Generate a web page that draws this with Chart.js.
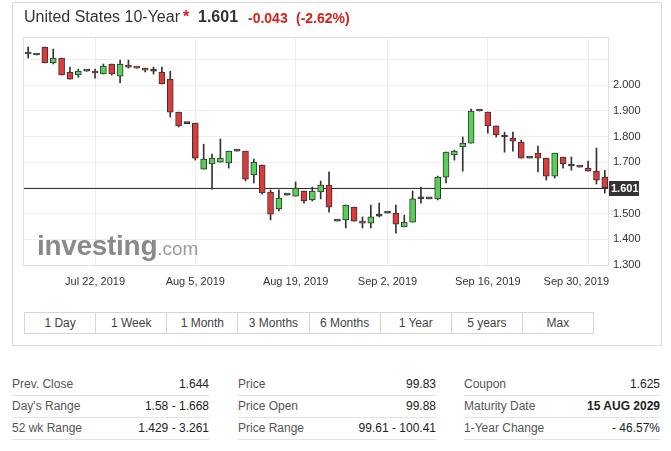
<!DOCTYPE html>
<html><head><meta charset="utf-8">
<script src="https://cdn.jsdelivr.net/npm/chart.js@4.4.0/dist/chart.umd.min.js"></script>
<style>
body{margin:0;background:#fff;font-family:'Liberation Sans',Arial,sans-serif;color:#333;width:671px;height:451px;overflow:hidden;position:relative}
#frame{position:absolute;left:12px;top:2px;width:650px;height:344px;border:1px solid #d9d9d9;box-sizing:border-box}
.h{position:absolute;white-space:nowrap;line-height:20px}
#chartBox{position:absolute;left:0;top:0;width:671px;height:300px}
#wm{position:absolute;left:37px;top:232px;height:30px;display:flex;align-items:baseline;pointer-events:none;white-space:nowrap}
#wm .a{font-size:28px;font-weight:bold;color:#8a8a8a;line-height:28px;letter-spacing:-0.3px}
#wm .b{font-size:19px;color:#9a9a9a;line-height:28px}
#btns{position:absolute;left:24px;top:312px;width:570px;height:22px;border:1px solid #d6d6d6;box-sizing:border-box;display:flex;background:#fff}
#btns div{flex:1;text-align:center;line-height:20px;font-size:12px;color:#444;border-left:1px solid #d6d6d6}
#btns div:first-child{border-left:none}
.col{position:absolute;top:374px}
.row{height:21px;line-height:21px;border-bottom:1px solid #e3e3e3;font-size:12px;display:flex;justify-content:space-between;color:#555}
.row b{color:#222;font-weight:normal}
</style></head>
<body>
<div id="frame"></div>
<div id="chartBox"><canvas id="c"></canvas></div>
<div class="h" style="left:24px;top:7px;font-size:16px;color:#333">United States 10-Year</div>
<div class="h" style="left:183px;top:7px;font-size:16px;font-weight:bold;color:#d91e18">*</div>
<div class="h" style="left:198px;top:7px;font-size:16px;font-weight:bold;color:#333">1.601</div>
<div class="h" style="left:248px;top:8px;font-size:14px;font-weight:bold;color:#d91e18">-0.043</div>
<div class="h" style="left:296px;top:8px;font-size:14px;font-weight:bold;color:#d91e18">(-2.62%)</div>
<div id="wm"><span class="a">investing</span><span class="b">.com</span></div>
<div id="btns"><div>1 Day</div><div>1 Week</div><div>1 Month</div><div>3 Months</div><div>6 Months</div><div>1 Year</div><div>5 years</div><div>Max</div></div>
<div class="col" style="left:12px;width:197px">
 <div class="row"><span>Prev. Close</span><b>1.644</b></div>
 <div class="row"><span>Day's Range</span><b>1.58 - 1.668</b></div>
 <div class="row"><span>52 wk Range</span><b>1.429 - 3.261</b></div>
</div>
<div class="col" style="left:238px;width:198px">
 <div class="row"><span>Price</span><b>99.83</b></div>
 <div class="row"><span>Price Open</span><b>99.88</b></div>
 <div class="row"><span>Price Range</span><b>99.61 - 100.41</b></div>
</div>
<div class="col" style="left:464px;width:196px">
 <div class="row"><span>Coupon</span><b>1.625</b></div>
 <div class="row"><span>Maturity Date</span><b style="font-weight:bold">15 AUG 2029</b></div>
 <div class="row"><span>1-Year Change</span><b>- 46.57%</b></div>
</div>
<script>
const categories = ['2019-07-12','2019-07-14','2019-07-15','2019-07-16','2019-07-17','2019-07-18','2019-07-19','2019-07-21','2019-07-22','2019-07-23','2019-07-24','2019-07-25','2019-07-26','2019-07-28','2019-07-29','2019-07-30','2019-07-31','2019-08-01','2019-08-02','2019-08-04','2019-08-05','2019-08-06','2019-08-07','2019-08-08','2019-08-09','2019-08-11','2019-08-12','2019-08-13','2019-08-14','2019-08-15','2019-08-16','2019-08-18','2019-08-19','2019-08-20','2019-08-21','2019-08-22','2019-08-23','2019-08-25','2019-08-26','2019-08-27','2019-08-28','2019-08-29','2019-08-30','2019-09-01','2019-09-03','2019-09-04','2019-09-05','2019-09-06','2019-09-08','2019-09-09','2019-09-10','2019-09-11','2019-09-12','2019-09-13','2019-09-15','2019-09-16','2019-09-17','2019-09-18','2019-09-19','2019-09-20','2019-09-22','2019-09-23','2019-09-24','2019-09-25','2019-09-26','2019-09-27','2019-09-29','2019-09-30','2019-10-01','2019-10-02'];
const opens  = [2.128,2.117,2.148,2.086,2.105,2.051,2.039,2.054,2.051,2.043,2.082,2.035,2.078,2.070,2.066,2.054,2.051,2.023,1.895,1.850,1.852,1.673,1.693,1.700,1.697,1.743,1.743,1.650,1.689,1.584,1.518,1.572,1.568,1.588,1.553,1.584,1.611,1.471,1.475,1.525,1.471,1.463,1.490,1.502,1.502,1.448,1.467,1.557,1.557,1.557,1.642,1.728,1.759,1.774,1.899,1.895,1.841,1.798,1.794,1.778,1.716,1.735,1.716,1.646,1.720,1.685,1.681,1.677,1.665,1.642];
const highs  = [2.148,2.117,2.148,2.140,2.105,2.070,2.062,2.054,2.062,2.082,2.082,2.097,2.097,2.070,2.066,2.070,2.070,2.054,1.895,1.850,1.852,1.770,1.732,1.790,1.743,1.743,1.743,1.712,1.689,1.592,1.592,1.572,1.623,1.588,1.603,1.627,1.662,1.471,1.533,1.525,1.487,1.533,1.541,1.502,1.533,1.494,1.588,1.603,1.557,1.646,1.739,1.747,1.798,1.907,1.899,1.895,1.841,1.817,1.817,1.786,1.716,1.763,1.716,1.735,1.720,1.720,1.681,1.704,1.755,1.668];
const lows   = [2.105,2.117,2.086,2.082,2.039,2.023,2.031,2.054,2.027,2.043,2.039,2.008,2.066,2.066,2.051,2.043,2.004,1.876,1.837,1.850,1.708,1.673,1.595,1.700,1.677,1.743,1.627,1.619,1.576,1.475,1.510,1.572,1.568,1.541,1.549,1.557,1.506,1.471,1.444,1.471,1.444,1.444,1.487,1.502,1.424,1.448,1.467,1.541,1.557,1.553,1.619,1.708,1.665,1.774,1.899,1.813,1.798,1.739,1.743,1.716,1.716,1.662,1.630,1.638,1.677,1.669,1.681,1.665,1.615,1.580];
const closes = [2.121,2.117,2.086,2.105,2.039,2.023,2.054,2.054,2.047,2.074,2.043,2.082,2.070,2.066,2.058,2.054,2.004,1.895,1.841,1.850,1.716,1.712,1.716,1.716,1.743,1.743,1.634,1.700,1.580,1.498,1.560,1.572,1.599,1.549,1.588,1.611,1.525,1.471,1.533,1.471,1.463,1.487,1.490,1.502,1.459,1.467,1.557,1.557,1.557,1.642,1.739,1.743,1.774,1.899,1.899,1.841,1.806,1.798,1.782,1.716,1.716,1.716,1.646,1.735,1.693,1.685,1.681,1.665,1.630,1.601];
const tickDates  = ['2019-07-22','2019-08-05','2019-08-19','2019-09-02','2019-09-16','2019-09-30'];
const tickLabels = ['Jul 22, 2019','Aug 5, 2019','Aug 19, 2019','Sep 2, 2019','Sep 16, 2019','Sep 30, 2019'];
const yMin = 1.3, yMax = 2.187, yStep = 0.1, yLabelMax = 2.0;

const FONT = "'Liberation Sans', Arial, sans-serif";
const tickIndex = {};
tickDates.forEach((d, k) => { let idx = -1; categories.forEach((c, i) => { if (c <= d) idx = i; }); tickIndex[idx] = tickLabels[k]; });
const lastClose = closes[closes.length - 1];
const bodies = opens.map((o, i) => [Math.min(o, closes[i]), Math.max(o, closes[i])]);
const wicks = lows.map((l, i) => [l, highs[i]]);
const bodyColors = opens.map((o, i) => closes[i] > o ? '#56d156' : (closes[i] < o ? '#dd3a3a' : '#333333'));

const overlay = {
  id: 'overlay',
  beforeDatasetsDraw(chart) {
    const {ctx, chartArea: a, scales: {y}} = chart;
    const py = Math.round(y.getPixelForValue(lastClose)) + 0.5;
    ctx.save();
    ctx.strokeStyle = '#333'; ctx.lineWidth = 1;
    ctx.beginPath(); ctx.moveTo(a.left, py); ctx.lineTo(a.right, py); ctx.stroke();
    ctx.restore();
  },
  afterDraw(chart) {
    const {ctx, chartArea: a, scales: {x, y}} = chart;
    ctx.save();
    ctx.strokeStyle = '#e0e0e0'; ctx.lineWidth = 1;
    ctx.strokeRect(a.left - 0.5, a.top + 0.5, a.right - a.left, a.bottom - a.top);
    ctx.font = '11px ' + FONT; ctx.fillStyle = '#333'; ctx.textAlign = 'center'; ctx.textBaseline = 'middle';
    Object.keys(tickIndex).forEach(k => {
      const t = tickIndex[k]; const w = ctx.measureText(t).width;
      let cx = x.getPixelForValue(+k);
      cx = Math.min(cx, a.right - w / 2); cx = Math.max(cx, a.left + w / 2);
      ctx.fillText(t, cx, a.bottom + 17);
    });
    const py = Math.round(y.getPixelForValue(lastClose));
    ctx.fillStyle = '#333';
    ctx.fillRect(a.right, py - 7, 30, 15);
    ctx.fillStyle = '#fff'; ctx.font = 'bold 11px ' + FONT; ctx.textAlign = 'left';
    ctx.fillText(lastClose.toFixed(3), a.right + 2, py + 0.5);
    ctx.restore();
  }
};

new Chart(document.getElementById('c'), {
  type: 'bar',
  data: {
    labels: categories,
    datasets: [
      {data: bodies, backgroundColor: bodyColors, borderColor: '#333', borderWidth: 1, borderSkipped: false, barThickness: 6, minBarLength: 2, grouped: false},
      {data: wicks, backgroundColor: '#333', borderWidth: 0, barThickness: 1, grouped: false}
    ]
  },
  options: {
    responsive: true, maintainAspectRatio: false, animation: false,
    layout: {padding: {left: 24, top: 37, right: 0, bottom: 0}},
    plugins: {legend: {display: false}, tooltip: {enabled: false}},
    scales: {
      x: {
        type: 'category', offset: true,
        grid: {offset: false, drawTicks: false, color: c => tickIndex[c.index] !== undefined ? '#eeeeee' : 'rgba(0,0,0,0)'},
        border: {display: false},
        ticks: {display: false, autoSkip: false},
        afterFit: s => { s.height = 35; s.paddingLeft = 0; s.paddingRight = 0; }
      },
      y: {
        position: 'right', min: yMin, max: yMax,
        grid: {color: '#eeeeee', drawTicks: false},
        border: {display: false},
        ticks: {
          stepSize: yStep, includeBounds: false, padding: 4, color: '#333',
          font: {size: 11, family: FONT},
          callback: v => (v <= yLabelMax + 1e-6 && Math.abs(v - lastClose) > 0.04) ? Number(v).toFixed(3) : ''
        },
        afterFit: s => { s.width = 62; s.paddingTop = 0; s.paddingBottom = 0; }
      }
    }
  },
  plugins: [overlay]
});
</script>
</body></html>
